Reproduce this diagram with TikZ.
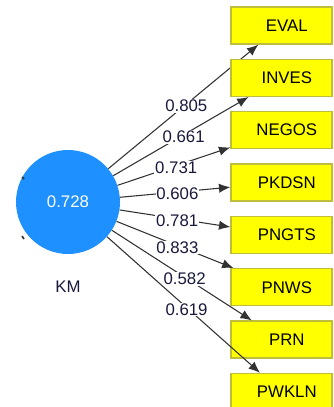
\documentclass[tikz,border=0pt]{standalone}
\usepackage{fontspec}
\setmainfont{Liberation Sans}
\usepackage{xcolor}
\usepackage{tikz}
\usetikzlibrary{arrows.meta}

\definecolor{kmblue}{RGB}{30,144,255}
\definecolor{boxyellow}{RGB}{255,255,0}
\definecolor{boxedge}{RGB}{190,190,60}
\definecolor{linegray}{RGB}{50,50,50}
\definecolor{numtext}{RGB}{25,25,60}

\tikzset{
  indic/.style={draw=boxedge, line width=1pt, fill=boxyellow, minimum width=75.75pt,
    minimum height=27.75pt, inner sep=0pt, font=\fontsize{12.6}{14}\selectfont},
  latent/.style={circle, fill=kmblue, minimum size=78pt, inner sep=0pt,
    text=white, font=\fontsize{12.6}{14}\selectfont},
  load/.style={fill=white, inner sep=0.6pt, text=numtext, font=\fontsize{12.6}{14}\selectfont},
  loadarrow/.style={draw=linegray, line width=0.8pt, -{Latex[length=8.5pt,width=7pt]}}
}

\begin{document}
\begin{tikzpicture}[x=0.75pt, y=-0.75pt]
  \useasboundingbox (0,0) rectangle (334,407);
  % latent variable
  \node[latent] (km) at (68,202) {0.728};
  \node[text=numtext, font=\fontsize{12.6}{14}\selectfont] (kmname) at (68,287) {KM};
  \draw[linegray, line width=1.2pt] (22,177) -- (24,179);
  \draw[linegray, line width=1.2pt] (22,236) -- (24,239);
  % indicators and loadings
  \foreach \name/\val [count=\i] in {EVAL/0.805, INVES/0.661, NEGOS/0.731, PKDSN/0.606,
      PNGTS/0.781, PNWS/0.833, PRN/0.582, PWKLN/0.619}
  {
    \node[indic] (\name) at (281.5, {25.5+52.35*(\i-1)}) {\hspace*{8pt}\name};
    \draw[loadarrow] (km) -- (\name) node[load, pos=0.52, yshift=-1.5pt] (w\name) {\val};
  }
\end{tikzpicture}
\end{document}
